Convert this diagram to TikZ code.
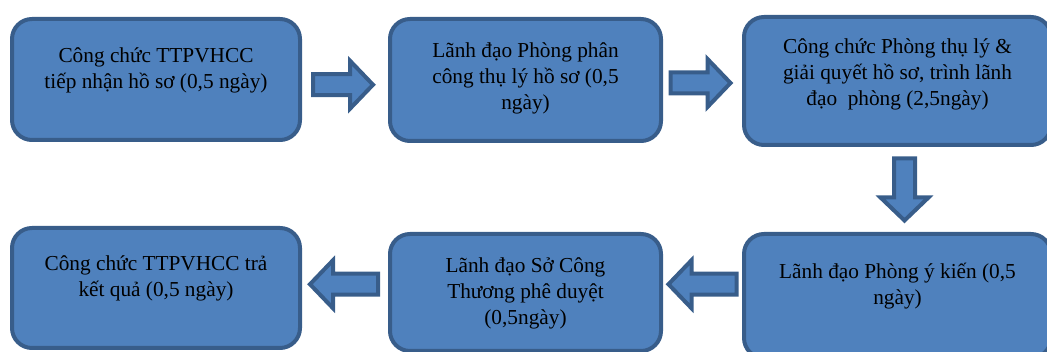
\documentclass[tikz,border=0pt]{standalone}
\usepackage{fontspec}
\setmainfont{Liberation Serif}
\usetikzlibrary{calc}
\definecolor{boxfill}{HTML}{4F81BD}
\definecolor{boxline}{HTML}{385D8A}
\tikzset{
  stepbox/.style={draw=boxline, fill=boxfill, line width=4pt, rounded corners=20pt, inner sep=0pt},
  txt/.style={font=\fontsize{21.3}{26}\selectfont, align=center, inner sep=0pt, anchor=north, text=black},
  barrowsty/.style={draw=boxline, fill=boxfill, line width=4pt, line join=miter},
  pics/barrow/.style={code={
    \draw[barrowsty] ({-#1/2},-10.5) -- ({#1/2-23},-10.5) -- ({#1/2-23},-24) -- ({#1/2},0)
      -- ({#1/2-23},24) -- ({#1/2-23},10.5) -- ({-#1/2},10.5) -- cycle;
  }}
}
\begin{document}
\begin{tikzpicture}[x=1pt,y=-1pt]
\useasboundingbox (0,0) rectangle (1047,352);
% boxes
\node[stepbox, minimum width=288pt, minimum height=121pt] (b1) at (156,79.5) {};
\node[stepbox, minimum width=271pt, minimum height=122pt] (b2) at (525.5,80) {};
\node[stepbox, minimum width=307pt, minimum height=128pt] (b3) at (897.5,81) {};
\node[stepbox, minimum width=307pt, minimum height=124pt] (b4) at (897.5,296) {};
\node[stepbox, minimum width=271pt, minimum height=117pt] (b5) at (525.5,292.5) {};
\node[stepbox, minimum width=288pt, minimum height=120pt] (b6) at (156,288) {};
% texts
\node[txt] (t1) at (156,43.8) {\strut Công chức TTPVHCC\\tiếp nhận hồ sơ (0,5 ngày)};
\node[txt] (t2) at (525.5,38.8) {\strut Lãnh đạo Phòng phân\\công thụ lý hồ sơ (0,5\\ngày)};
\node[txt] (t3) at (897.5,34.8) {\strut Công chức Phòng thụ lý \&\\giải quyết hồ sơ, trình lãnh\\đạo\ \ phòng (2,5ngày)};
\node[txt] (t4) at (897.5,259.8) {\strut Lãnh đạo Phòng ý kiến (0,5\\ngày)};
\node[txt] (t5) at (525.5,253.8) {\strut Lãnh đạo Sở Công\\Thương phê duyệt\\(0,5ngày)};
\node[txt] (t6) at (156,251.8) {\strut Công chức TTPVHCC trả\\kết quả (0,5 ngày)};
% block arrows
\pic at ($(b1.east)!0.5!(b2.west)+(-2,5)$) {barrow=60};
\pic at ($(b2.east)!0.5!(b3.west)+(-2,2.5)$) {barrow=60};
\pic[rotate=-90] at ($(b3.south)!0.5!(b4.north)+(7,0)$) {barrow=62};
\pic[rotate=180] at ($(b4.west)!0.5!(b5.east)+(0,-10)$) {barrow=68};
\pic[rotate=180] at ($(b5.west)!0.5!(b6.east)+(-1,-6)$) {barrow=68};
\end{tikzpicture}
\end{document}
